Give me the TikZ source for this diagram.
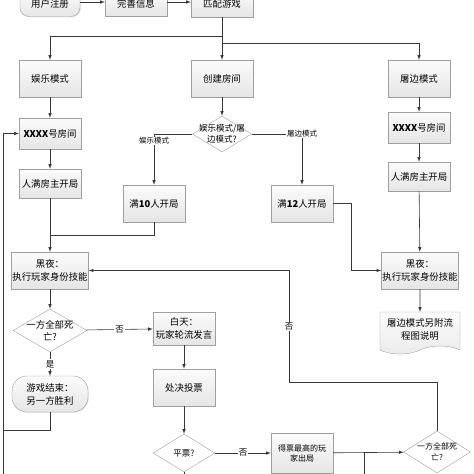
\documentclass[tikz,border=0pt]{standalone}
\usepackage{fontspec}
\newfontfamily\cjk{Noto Sans CJK SC}
\usetikzlibrary{arrows, shapes.geometric, shapes.symbols, shadows}

\begin{document}
\begin{tikzpicture}[>=latex, x=1pt, y=-1pt, font=\cjk\fontsize{9.4}{13}\selectfont,
  line/.style={draw=black!78, line width=0.6pt},
  box/.style={draw=gray!75, top color=gray!3, bottom color=gray!20, align=center,
    minimum width=62pt, minimum height=37pt, inner sep=1pt,
    drop shadow={shadow xshift=0.8pt, shadow yshift=-0.8pt, opacity=0.2}},
  dia/.style={diamond, draw=gray!75, fill=white, inner sep=0pt},
  lab/.style={fill=white, inner sep=1pt, font=\cjk\fontsize{7.5}{9}\selectfont},
  yn/.style={fill=white, inner sep=1pt, font=\cjk\fontsize{8.5}{9}\selectfont}]

\useasboundingbox (0,0) rectangle (474,474);
\clip (0,0) rectangle (474,474);

%\draw[step=10, gray!20] (0,0) grid (474,474);

% top row
\node[box, rounded corners=9pt, minimum height=25pt, minimum width=60pt] (reg) at (50,4) {用户注册};
\node[box, minimum height=25pt] (info) at (136,4) {完善信息};
\node[box, minimum height=26pt] (match) at (222,4) {匹配游戏};

% three modes
\node[box] (fun) at (50,78.5) {娱乐模式};
\node[box] (create) at (222,78.5) {创建房间};
\node[box] (tubian) at (419,78.5) {屠边模式};

% left column
\node[box, minimum height=31pt] (room1) at (50,133.5) {\textbf{XXXX}号房间};
\node[box, minimum height=29pt] (full1) at (50,183.5) {人满房主开局};
\node[box, minimum width=75pt] (night1) at (50,270.5) {黑夜：\\执行玩家身份技能};
\node[dia, minimum width=74pt, minimum height=43pt,
  label={[align=center, font=\cjk\fontsize{9.4}{12}\selectfont]center:一方全部死\\亡?}] (dead1) at (50,330.5) {};
\node[box, rounded corners=15pt, minimum width=76pt, minimum height=36pt] (gameover) at (50,394) {游戏结束：\\另一方胜利};

% middle column
\node[dia, minimum width=59pt, minimum height=36pt,
  label={[align=center, font=\cjk\fontsize{8.5}{11}\selectfont]center:娱乐模式/屠\\边模式?}] (mode) at (222,134) {};
\node[box] (ten) at (154,203.5) {满\textbf{10}人开局};
\node[box] (twelve) at (302,203.5) {满\textbf{12}人开局};
\node[box, minimum height=33pt] (day) at (184,328.5) {白天：\\玩家轮流发言};
\node[box] (vote) at (184,387.5) {处决投票};
\node[dia, minimum width=62pt, minimum height=38pt,
  label={[font=\cjk\fontsize{8.5}{11}\selectfont]center:平票?}] (tie) at (184,453) {};
\node[box, minimum height=40pt, font=\cjk\fontsize{8}{10}\selectfont] (out) at (302,453) {得票最高的玩\\家出局};
\node[dia, minimum width=67pt, minimum height=42pt,
  label={[align=center, font=\cjk\fontsize{8}{11}\selectfont]center:一方全部死\\亡?}] (dead2) at (437,452) {};

% right column
\node[box, minimum height=31pt] (room2) at (419,127.5) {\textbf{XXXX}号房间};
\node[box, minimum height=29pt] (full2) at (419,176.5) {人满房主开局};
\node[box, minimum width=75pt] (night2) at (420,270.5) {黑夜：\\执行玩家身份技能};
\node[tape, tape bend top=none, tape bend height=8pt, draw=gray!75, top color=gray!3, bottom color=gray!16,
  minimum width=80pt, minimum height=42pt, align=center, inner sep=1pt] (doc) at (420,329) {屠边模式另附流\\程图说明};

\coordinate (j1) at (50,235);
\coordinate (lft) at (3,430);
\coordinate (bot) at (3,474);
\coordinate (loop) at (289,382);
\coordinate (j2) at (364,453);
\coordinate (j2b) at (364,474);
\coordinate (tieb) at (184,474);

% connectors
\draw[line,->] (reg.east |- 0,2) -- (info.west |- 0,2);
\draw[line,->] (info.east |- 0,2) -- (match.west |- 0,2);
\draw[line,->] (match.south) -- (create.north);
\draw[line,->] (match.south) ++(0,19) -| (fun.north);
\draw[line,->] (match.south) ++(0,26) -| (tubian.north);

\draw[line,->] (fun) -- (room1);
\draw[line,->] (room1) -- (full1);
\draw[line,->] (full1) -- (night1);
\draw[line] (ten.south) |- (j1);

\draw[line,->] (create) -- (mode);
\draw[line,->] (mode.west) -| node[lab, yshift=-7pt] {娱乐模式} (ten.north);
\draw[line,->] (mode.east) -| node[lab] {屠边模式} (twelve.north);
\draw[line,->] (twelve.east) -- ++(18,0) |- (night2.west);

\draw[line,->] (tubian) -- (room2);
\draw[line,->] (room2) -- (full2);
\draw[line,->] (full2) -- (night2);
\draw[line,->] (night2) -- (doc);

\draw[line,->] (night1) -- (dead1);
\draw[line,->] (dead1) -- node[yn, pos=0.5] {否} (day);
\draw[line,->] (dead1) -- node[yn] {是} (gameover);
\draw[line] (gameover.south) |- (lft);
\draw[line,->] (bot) |- (room1.west);

\draw[line,->] (day) -- (vote);
\draw[line,->] (vote) -- (tie);
\draw[line,->] (tie) -- node[yn] {否} (out);
\draw[line] (tie.south) -- (tieb);
\draw[line,->] (out) -- (dead2);
\draw[line] (j2) -- (j2b);
\draw[line] (dead2.north) |- (loop);
\draw[line,->] (loop) |- node[yn, pos=0.25] {否} (night1.east);

\end{tikzpicture}
\end{document}
